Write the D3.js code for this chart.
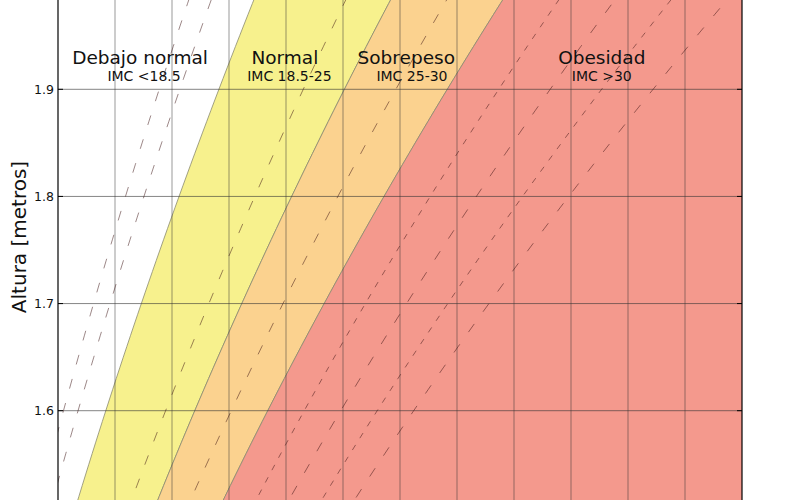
<!DOCTYPE html>
<html>
<head>
<meta charset="utf-8">
<script src="https://cdn.jsdelivr.net/npm/d3@7"></script>
<style>
  body { margin: 0; background: #fff; }
  text { font-family: "DejaVu Sans", sans-serif; fill: #111; }
</style>
</head>
<body>
<svg id="chart" width="800" height="500"></svg>
<script>
// BMI bands (lower / upper limit of each coloured zone, as drawn)
var bandNames = ["Debajo normal", "Normal", "Sobrepeso", "Obesidad"];
var bandSub = ["IMC <18.5", "IMC 18.5-25", "IMC 25-30", "IMC >30"];
var bandLow = [0, 18.9, 25, 30];
var bandHigh = [18.9, 25, 30, 200];
var bandColors = ["#ffffff", "#f7f18d", "#fbd28f", "#f4998d"];
// where each label sits (weight in kg)
var nameWeight = [54.4, 79.8, 101.1, 135.4];
var subWeight = [55.1, 80.6, 102.1, 135.4];

// extra BMI reference lines
var refBmi = [16, 17, 23, 27.5, 32.5, 35, 37.5, 40];
var refStyle = ["long", "long", "long", "long", "short", "long", "short", "long"];

var weightTicks = [50, 60, 70, 80, 90, 100, 110, 120, 130, 140, 150];
var heightTicks = [1.6, 1.7, 1.8, 1.9];

var svg = d3.select("#chart");
var left = 58, right = 742;

var x = d3.scaleLinear().domain([40, 160]).range([left, right]);
var y = d3.scaleLinear().domain([1.6, 1.9]).range([410.7, 89.3]);

svg.append("clipPath").attr("id", "plot")
  .append("rect").attr("x", left).attr("y", -20)
  .attr("width", right - left).attr("height", 540);

var g = svg.append("g").attr("clip-path", "url(#plot)");

// heights used to trace the curves w = bmi * h^2
var hs = d3.range(1.44, 2.06, 0.01);

bandLow.forEach(function(lo, i) {
  var hi = bandHigh[i];
  var a = d3.area()
    .y(function(h) { return y(h); })
    .x0(function(h) { return x(lo * h * h); })
    .x1(function(h) { return x(hi * h * h); });
  g.append("path")
    .attr("d", a(hs))
    .attr("fill", bandColors[i])
    .attr("stroke", i == 0 ? "none" : "#8a8a70")
    .attr("stroke-width", 0.8);
});

// grid
g.selectAll(".vgrid").data(weightTicks).enter().append("line")
  .attr("x1", function(d) { return x(d); }).attr("x2", function(d) { return x(d); })
  .attr("y1", -20).attr("y2", 520)
  .attr("stroke", "#333").attr("stroke-opacity", 0.5).attr("stroke-width", 1);

g.selectAll(".hgrid").data(heightTicks).enter().append("line")
  .attr("x1", left).attr("x2", right)
  .attr("y1", function(d) { return y(d); }).attr("y2", function(d) { return y(d); })
  .attr("stroke", "#333").attr("stroke-opacity", 0.6).attr("stroke-width", 1);

// dashed BMI lines
var line = d3.line();
refBmi.forEach(function(b, i) {
  g.append("path")
    .attr("d", line(hs.map(function(h) { return [x(b * h * h), y(h)]; })))
    .attr("fill", "none")
    .attr("stroke", "#3a1010")
    .attr("stroke-opacity", 0.5)
    .attr("stroke-width", 1)
    .attr("stroke-dasharray", refStyle[i] == "long" ? "10,15" : "6,8");
});

// axes frame
svg.append("line").attr("x1", left).attr("x2", left).attr("y1", 0).attr("y2", 500)
  .attr("stroke", "#000").attr("stroke-width", 1.2);
svg.append("line").attr("x1", right).attr("x2", right).attr("y1", 0).attr("y2", 500)
  .attr("stroke", "#000").attr("stroke-width", 1.2);

// ticks (inward) and labels
heightTicks.forEach(function(t) {
  svg.append("line").attr("x1", left).attr("x2", left + 5)
    .attr("y1", y(t)).attr("y2", y(t)).attr("stroke", "#000");
  svg.append("line").attr("x1", right - 5).attr("x2", right)
    .attr("y1", y(t)).attr("y2", y(t)).attr("stroke", "#000");
  svg.append("text")
    .attr("x", left - 4).attr("y", y(t))
    .attr("dy", "0.35em")
    .attr("text-anchor", "end")
    .attr("font-size", 12.5)
    .text(d3.format(".1f")(t));
});

svg.append("text")
  .attr("transform", "translate(26,237) rotate(-90)")
  .attr("text-anchor", "middle")
  .attr("font-size", 20)
  .text("Altura [metros]");

bandNames.forEach(function(n, i) {
  svg.append("text")
    .attr("x", x(nameWeight[i])).attr("y", 63.5)
    .attr("text-anchor", "middle")
    .attr("font-size", 18.5)
    .text(n);
  svg.append("text")
    .attr("x", x(subWeight[i])).attr("y", 81)
    .attr("text-anchor", "middle")
    .attr("font-size", 14)
    .text(bandSub[i]);
});
</script>
</body>
</html>
